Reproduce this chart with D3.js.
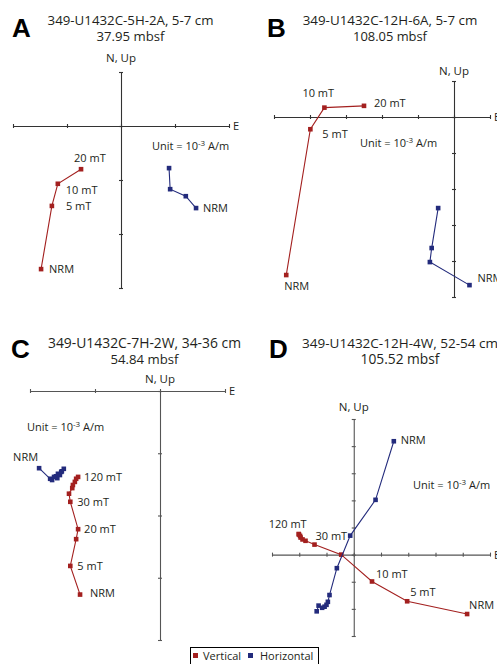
<!DOCTYPE html>
<html>
<head>
<style>
body { margin: 0; background: #fff; }
text { font-family: "Open Sans", "Noto Sans", sans-serif; fill: #231f20; }
</style>
</head>
<body>
<script src="https://cdn.jsdelivr.net/npm/d3@7"></script>
<script>
// demagnetization steps
var stepsShort = ["NRM", "5 mT", "10 mT", "20 mT"];
var stepsLong = ["NRM", "5 mT", "10 mT", "20 mT", "30 mT", "40 mT", "50 mT", "60 mT", "80 mT", "100 mT", "120 mT"];

// values in axis tick units (x = E, y = N / Up)
// A
var vertA = [[-1.48, -2.65], [-1.28, -1.48], [-1.17, -1.07], [-0.74, -0.80]];
var horA  = [[1.39, -1.52], [1.20, -1.30], [0.91, -1.17], [0.89, -0.78]];
// B
var vertB = [[-4.66, -4.39], [-3.99, -0.34], [-3.60, 0.26], [-2.50, 0.31]];
var horB  = [[0.43, -4.67], [-0.67, -4.03], [-0.62, -3.64], [-0.44, -2.53]];
// C
var vertC = [[-1.23, -3.27], [-1.38, -2.81], [-1.29, -2.38], [-1.26, -2.22], [-1.38, -1.78], [-1.40, -1.65],
             [-1.35, -1.56], [-1.34, -1.51], [-1.31, -1.46], [-1.29, -1.41], [-1.26, -1.38]];
var horC  = [[-1.86, -1.24], [-1.69, -1.41], [-1.66, -1.43], [-1.63, -1.38], [-1.60, -1.37], [-1.58, -1.40],
             [-1.57, -1.33], [-1.54, -1.35], [-1.52, -1.30], [-1.51, -1.29], [-1.48, -1.25]];
// D
var vertD = [[4.16, -2.19], [1.96, -1.72], [0.67, -0.99], [-0.46, 0.00], [-1.44, 0.37], [-1.77, 0.51],
             [-1.88, 0.56], [-1.95, 0.63], [-1.97, 0.69], [-2.01, 0.74], [-2.02, 0.76]];
var horD  = [[1.47, 4.18], [0.80, 2.02], [-0.13, 0.70], [-0.62, -0.50], [-0.89, -1.49], [-0.95, -1.74],
             [-1.00, -1.85], [-1.07, -1.92], [-1.16, -1.96], [-1.29, -1.88], [-1.36, -2.09]];

var letters = ["A", "B", "C", "D"];
var samples = ["349-U1432C-5H-2A, 5-7 cm", "349-U1432C-12H-6A, 5-7 cm", "349-U1432C-7H-2W, 34-36 cm", "349-U1432C-12H-4W, 52-54 cm"];
var depths = ["37.95 mbsf", "108.05 mbsf", "54.84 mbsf", "105.52 mbsf"];
var legendNames = ["Vertical", "Horizontal"];

var red = "#a3201f", blue = "#232b7c";

// layout of each panel (pixels); titleW = widths of the two title lines
var panels = [
  { vert: vertA, hor: horA, steps: stepsShort,
    xd: [-2, 2], xr: [13, 229], yd: [-3, 1], yr: [288, 72],
    letter: [12, 37], title: [130.5, 25], titleW: [166, 68], nup: 62, unit: [152, 150], axisColor: "#333",
    labels: [["v", 3, -7, -7], ["v", 2, 8, 10], ["v", 1, 14, 4], ["v", 0, 8, 4], ["h", 0, 7, 4]] },
  { vert: vertB, hor: horB, steps: stepsShort,
    xd: [-5, 1], xr: [274, 490], yd: [-5, 1], yr: [297, 81],
    letter: [267, 37], title: [390, 25], titleW: [175, 74], nup: 75, unit: [360, 147], axisColor: "#333",
    labels: [["v", 2, -22, -11], ["v", 3, 10, 1], ["v", 1, 12, 9], ["v", 0, -2, 15], ["h", 0, 8, -3]] },
  { vert: vertC, hor: horC, steps: stepsLong,
    xd: [-2, 1], xr: [30, 225], yd: [-4, 0], yr: [640, 391],
    letter: [11, 358], title: [144.5, 348], titleW: [193, 68], nup: 383, unit: [27, 431], axisColor: "#555",
    labels: [["v", 10, 6, 4], ["v", 4, 7, 4], ["v", 3, 6, 4], ["v", 1, 7, 4], ["v", 0, 10, 2], ["h", 0, -26, -7]] },
  { vert: vertD, hor: horD, steps: stepsLong,
    xd: [-3, 5], xr: [272, 490], yd: [-3, 5], yr: [636, 419],
    letter: [269, 358], title: [400, 348], titleW: [196, 79], nup: 411, unit: [413, 489], axisColor: "#555",
    labels: [["h", 0, 7, 3], ["v", 10, -30, -6], ["v", 4, 1, -5], ["v", 2, 4, -3], ["v", 1, 3, -5], ["v", 0, 2, -5]] }
];

var svg = d3.select("body").append("svg")
  .attr("width", 497)
  .attr("height", 664);

panels.forEach(function(p, i) {
  var x = d3.scaleLinear().domain(p.xd).range(p.xr);
  var y = d3.scaleLinear().domain(p.yd).range(p.yr);
  var g = svg.append("g");

  // headings
  g.append("text").attr("x", p.letter[0]).attr("y", p.letter[1])
    .style("font-family", "'Liberation Sans', Arial, sans-serif")
    .style("font-weight", "bold").style("font-size", "26px").style("fill", "#000")
    .text(letters[i]);
  // each title line is sized so it spans the same width as in the figure
  [samples[i], depths[i]].forEach(function(s, k) {
    var t = g.append("text").attr("x", p.title[0]).attr("y", p.title[1] + 16 * k)
      .attr("text-anchor", "middle").style("font-size", "12px").text(s);
    var fs = Math.min(14, 12 * p.titleW[k] / t.node().getComputedTextLength());
    t.style("font-size", fs + "px");
  });

  // axes crossing at the origin
  var xAxis = d3.axisBottom(x).tickValues(d3.range(p.xd[0], p.xd[1] + 1))
    .tickSize(2).tickSizeOuter(0).tickFormat("");
  var yAxis = d3.axisLeft(y).tickValues(d3.range(p.yd[0], p.yd[1] + 1))
    .tickSize(2).tickSizeOuter(0).tickFormat("");

  var gx = g.append("g").attr("transform", "translate(0," + y(0) + ")").call(xAxis);
  var gy = g.append("g").attr("transform", "translate(" + x(0) + ",0)").call(yAxis);
  gx.selectAll("line").attr("y1", -2).attr("y2", 2);
  gy.selectAll("line").attr("x1", -2).attr("x2", 2);
  [gx, gy].forEach(function(a) {
    a.selectAll("path, line").attr("stroke", p.axisColor).attr("stroke-width", 1.1);
  });

  g.append("text").attr("x", p.xr[1] + 4).attr("y", y(0) + 4).style("font-size", "11px").text("E");
  g.append("text").attr("x", x(0)).attr("y", p.nup).attr("text-anchor", "middle")
    .style("font-size", "11.5px").text("N, Up");

  var unit = g.append("text").attr("x", p.unit[0]).attr("y", p.unit[1]).style("font-size", "11px");
  unit.append("tspan").text("Unit = 10");
  unit.append("tspan").attr("dy", -4).style("font-size", "8px").text("-3");
  unit.append("tspan").attr("dy", 4).text(" A/m");

  // demagnetization paths
  var line = d3.line().x(function(d) { return x(d[0]); }).y(function(d) { return y(d[1]); });
  [[p.vert, red], [p.hor, blue]].forEach(function(s) {
    g.append("path").datum(s[0]).attr("d", line)
      .attr("fill", "none").attr("stroke", s[1]).attr("stroke-width", 1.1);
    g.selectAll(null).data(s[0]).enter().append("rect")
      .attr("x", function(d) { return x(d[0]) - 2.3; })
      .attr("y", function(d) { return y(d[1]) - 2.3; })
      .attr("width", 4.6).attr("height", 4.6)
      .attr("fill", s[1]);
  });

  // step labels
  p.labels.forEach(function(l) {
    var d = (l[0] == "v" ? p.vert : p.hor)[l[1]];
    g.append("text").attr("x", x(d[0]) + l[2]).attr("y", y(d[1]) + l[3])
      .style("font-size", "11px").text(p.steps[l[1]]);
  });
});

// legend
var lg = svg.append("g");
lg.append("rect").attr("x", 190.5).attr("y", 647.5).attr("width", 128).attr("height", 22)
  .attr("fill", "#fff").attr("stroke", "#000").attr("stroke-width", 1);
[[red, 193, 203], [blue, 248, 260]].forEach(function(d, i) {
  lg.append("rect").attr("x", d[1]).attr("y", 653).attr("width", 5).attr("height", 5).attr("fill", d[0]);
  lg.append("text").attr("x", d[2]).attr("y", 660).style("font-size", "11px").text(legendNames[i]);
});
</script>
</body>
</html>
